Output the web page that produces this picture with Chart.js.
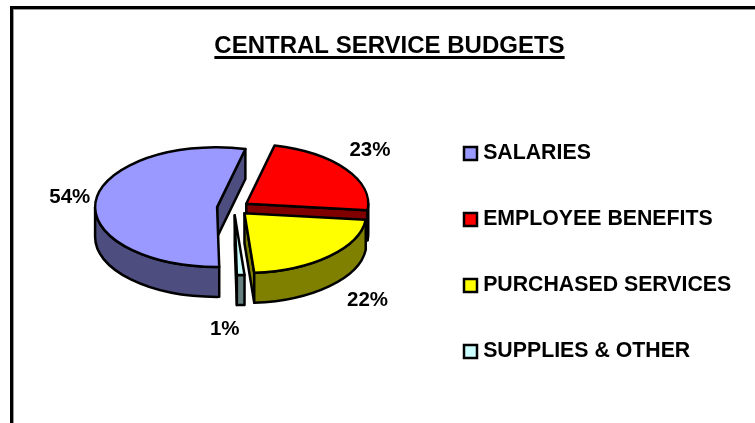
<!DOCTYPE html>
<html>
<head>
<meta charset="utf-8">
<title>Central Service Budgets</title>
<script src="https://cdn.jsdelivr.net/npm/chart.js@4"></script>
<style>
    html, body { margin: 0; padding: 0; width: 755px; height: 423px; overflow: hidden; background: #fff; }
    #frame { position: absolute; left: 10px; top: 6px; width: 800px; height: 500px; border: 3px solid #000; box-shadow: inset 1px 1px 0 #999; }
    #wrap { position: absolute; left: 0; top: 0; width: 755px; height: 423px; }
</style>
</head>
<body>
<div id="frame"></div>
<div id="wrap"><canvas id="grafico" width="755" height="423"></canvas></div>
<script>
const titleText = 'CENTRAL SERVICE BUDGETS';
const categories = ['SALARIES', 'EMPLOYEE BENEFITS', 'PURCHASED SERVICES', 'SUPPLIES & OTHER'];
const values = [54, 23, 22, 1];
const topColors = ['#9999FF', '#FF0000', '#FFFF00', '#CCFFFF'];
const sideColors = ['#4D4D80', '#800000', '#808000', '#668080'];
const labelNudge = [[-28, -3], [24, -19], [38, 14], [-16, 24]]; // from the rim point of each slice
const explodeBy = [17, 15, 15, 15];
const drawOrder = [1, 0, 2, 3];

const squash = 0.49;    // ellipse height / width
const depth = 30;
const fontName = '"Liberation Sans", Arial, sans-serif';

function drawSlice(ctx, arc, color, side, explode) {
    const mid = (arc.startAngle + arc.endAngle) / 2;
    const r = arc.outerRadius;
    const x = arc.x + Math.cos(mid) * explode;
    const y = arc.y + Math.sin(mid) * explode * squash;
    const a0 = arc.startAngle;
    const a1 = arc.endAngle;
    const rimX = a => x + Math.cos(a) * r;
    const rimY = a => y + Math.sin(a) * r * squash;

    ctx.lineWidth = 2.5;
    ctx.lineJoin = 'round';
    ctx.strokeStyle = '#000';
    ctx.fillStyle = side;

    // cut faces, only the ones turned to the viewer
    [[a0, -Math.cos(a0)], [a1, Math.cos(a1)]].forEach(([a, facing]) => {
        if (facing > 0.001) {
            ctx.beginPath();
            ctx.moveTo(x, y);
            ctx.lineTo(rimX(a), rimY(a));
            ctx.lineTo(rimX(a), rimY(a) + depth);
            ctx.lineTo(x, y + depth);
            ctx.closePath();
            ctx.fill();
            ctx.stroke();
        }
    });

    // outer wall on the front half of the ellipse
    [0, 2 * Math.PI].forEach(k => {
        const lo = Math.max(a0, k);
        const hi = Math.min(a1, k + Math.PI);
        if (hi > lo) {
            ctx.beginPath();
            ctx.ellipse(x, y, r, r * squash, 0, lo, hi);
            ctx.ellipse(x, y + depth, r, r * squash, 0, hi, lo, true);
            ctx.closePath();
            ctx.fill();
            ctx.stroke();
        }
    });

    ctx.fillStyle = color;
    ctx.beginPath();
    ctx.moveTo(x, y);
    ctx.ellipse(x, y, r, r * squash, 0, a0, a1);
    ctx.closePath();
    ctx.fill();
    ctx.stroke();
}

const pie3d = {
    id: 'pie3d',
    afterLayout(chart) {
        // title and legend sit where the original has them
        const t = chart.titleBlock;
        t.top += 32; t.bottom += 32; t.left = 12; t.right = 767;
        const l = chart.legend;
        l.left = 423.8; l.right = l.left + l.width;
        l.top = 98.2; l.bottom = l.top + l.height;
    },
    beforeDatasetDraw(chart) {
        const ctx = chart.ctx;
        const arcs = chart.getDatasetMeta(0).data;
        ctx.save();
        drawOrder.forEach(i => drawSlice(ctx, arcs[i], topColors[i], sideColors[i], explodeBy[i]));

        const total = values.reduce((a, b) => a + b, 0);
        ctx.fillStyle = '#000';
        ctx.font = 'bold 20.5px ' + fontName;
        ctx.textAlign = 'center';
        ctx.textBaseline = 'middle';
        arcs.forEach((arc, i) => {
            const mid = (arc.startAngle + arc.endAngle) / 2;
            const r = arc.outerRadius + 15;
            const below = Math.sin(mid) > 0 ? depth : 0;
            ctx.fillText(Math.round(values[i] / total * 100) + '%',
                arc.x + Math.cos(mid) * r + labelNudge[i][0],
                arc.y + Math.sin(mid) * r * squash + below + labelNudge[i][1]);
        });
        ctx.restore();
        return false;
    },
    afterDraw(chart) {
        // canvas text has no underline
        const ctx = chart.ctx;
        const t = chart.titleBlock;
        ctx.save();
        ctx.font = 'bold 24px ' + fontName;
        const w = ctx.measureText(titleText).width;
        ctx.fillStyle = '#000';
        ctx.fillRect((t.left + t.right) / 2 - w / 2, 56, w, 3);
        ctx.restore();
    }
};

new Chart(document.getElementById('grafico'), {
    type: 'pie',
    data: {
        labels: categories,
        datasets: [{
            data: values,
            backgroundColor: topColors,
            borderColor: '#000',
            borderWidth: 2.5
        }]
    },
    options: {
        responsive: false,
        animation: false,
        events: [],
        radius: 122,
        rotation: 179,
        layout: { padding: { right: 287, bottom: 35.8 } },
        plugins: {
            title: {
                display: true,
                text: titleText,
                color: '#000',
                padding: 0,
                font: { family: fontName, size: 24, weight: 'bold' }
            },
            legend: {
                position: 'chartArea',
                align: 'start',
                labels: {
                    color: '#000',
                    font: { family: fontName, size: 21.3, weight: 'bold' },
                    usePointStyle: true,
                    pointStyle: 'rect',
                    boxWidth: 4,
                    boxHeight: 13,
                    padding: 44.7
                }
            },
            tooltip: { enabled: false }
        }
    },
    plugins: [pie3d]
});
</script>
</body>
</html>
